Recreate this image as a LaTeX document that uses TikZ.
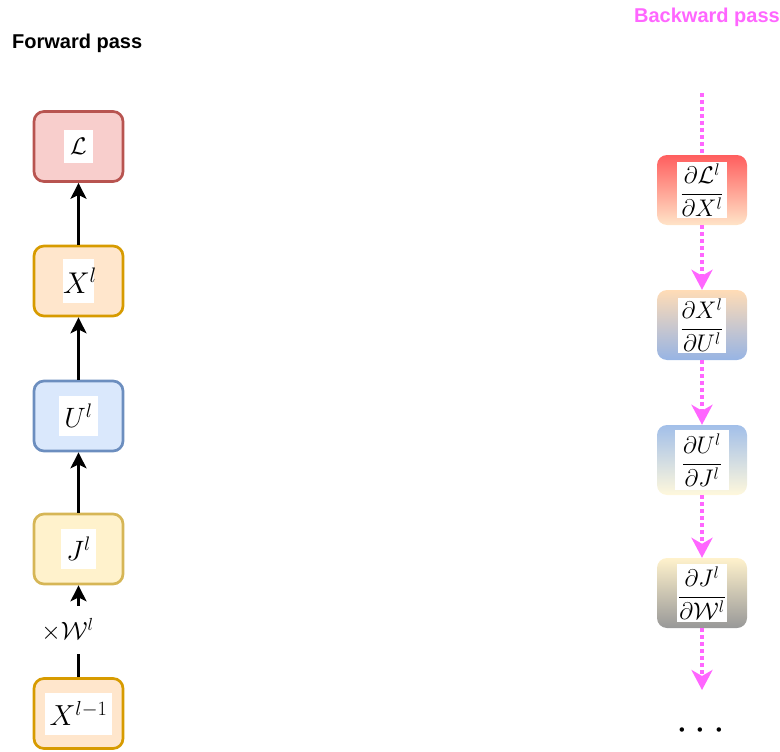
\RequirePackage{fix-cm}
\documentclass[tikz,border=0pt]{standalone}
\usepackage{amsmath}
\usepackage{fontspec}
\newfontfamily\labelfont{Liberation Sans}
\usetikzlibrary{arrows.meta}
\definecolor{lRed}{HTML}{F8CECC}
\definecolor{dRed}{HTML}{B85450}
\definecolor{lOrange}{HTML}{FFE6CC}
\definecolor{dOrange}{HTML}{D79B00}
\definecolor{lBlue}{HTML}{DAE8FC}
\definecolor{dBlue}{HTML}{6C8EBF}
\definecolor{lYellow}{HTML}{FFF2CC}
\definecolor{dYellow}{HTML}{D6B656}
\definecolor{bwd}{HTML}{FF66FF}
\definecolor{gRedT}{HTML}{FF5E5E}
\definecolor{gRedB}{HTML}{FFE4C8}
\definecolor{gPeach}{HTML}{FFDCB6}
\definecolor{gBlue}{HTML}{97B4E4}
\definecolor{gBlueT}{HTML}{A2BFE9}
\definecolor{gCream}{HTML}{FFF8DC}
\definecolor{gYelT}{HTML}{FFF2CC}
\definecolor{gGray}{HTML}{989898}
\tikzset{
  fbox/.style={draw, line width=2.7pt, rounded corners=10pt, minimum width=89pt, minimum height=70pt, inner sep=0pt},
  bbox/.style={rounded corners=10pt, minimum width=90pt, minimum height=70pt, inner sep=0pt, shading=axis, shading angle=0},
  fwd/.style={line width=2.5pt, -{Stealth[length=16pt,width=16pt,inset=4pt]}},
  bwdline/.style={bwd, line width=4pt, dash pattern=on 4pt off 3pt},
  bwdarrow/.style={bwdline, -{Stealth[length=20pt,width=21pt,inset=6pt,sep=0pt]}},
  title/.style={font=\labelfont\bfseries\fontsize{20}{22}\selectfont, inner sep=0pt},
}
% size, box width, box height, math
\newcommand{\wlab}[4]{{\fontsize{#1}{#1}\selectfont\setlength{\fboxsep}{0pt}\colorbox{white}{\parbox[c][#3][c]{#2}{\centering$#4$}}}}
\begin{document}
\begin{tikzpicture}[x=1pt,y=-1pt]
\useasboundingbox (0,0) rectangle (780,752);
% titles
\node[title, anchor=west] (ftitle) at (12,43) {Forward pass};
\node[title, anchor=east, text=bwd] (btitle) at (780,17) {Backward pass};
% forward boxes
\node[fbox, fill=lRed, draw=dRed] (L) at (78.5,146.5) {\wlab{24}{29pt}{34pt}{\mathcal{L}}};
\node[fbox, fill=lOrange, draw=dOrange] (Xl) at (78.5,281) {\wlab{30}{31pt}{44pt}{X^l}};
\node[fbox, fill=lBlue, draw=dBlue] (Ul) at (78.5,416) {\wlab{28}{39pt}{40pt}{U^l}};
\node[fbox, fill=lYellow, draw=dYellow] (Jl) at (78.5,549) {\wlab{28}{35pt}{40pt}{J^l}};
\node[fbox, fill=lOrange, draw=dOrange] (Xlm) at (78.5,713.5) {\wlab{29}{67pt}{42pt}{X^{l-1}}};
% forward edges
\draw[fwd] (Xl) -- (L);
\draw[fwd] (Ul) -- (Xl);
\draw[fwd] (Jl) -- (Ul);
\draw[fwd] (Xlm) -- node[fill=white, inner sep=0pt, minimum height=48pt, xshift=-11pt, yshift=1pt, font=\fontsize{25}{25}\selectfont] (wlabel) {$\times\mathcal{W}^l$} (Jl);
% backward boxes
\node[bbox, top color=gRedT, bottom color=gRedB] (dL) at (702,190) {\wlab{24}{50pt}{56pt}{\dfrac{\partial\mathcal{L}^l}{\partial X^l}}};
\node[bbox, top color=gPeach, bottom color=gBlue] (dXU) at (702,325) {\wlab{24}{48pt}{55pt}{\dfrac{\partial X^l}{\partial U^l}}};
\node[bbox, top color=gBlueT, bottom color=gCream] (dUJ) at (702,460) {\wlab{24}{54pt}{60pt}{\dfrac{\partial U^l}{\partial J^l}}};
\node[bbox, top color=gYelT, bottom color=gGray] (dJW) at (702,593) {\wlab{24}{50pt}{58pt}{\dfrac{\partial J^l}{\partial \mathcal{W}^l}}};
\coordinate (btop) at (702,93);
\coordinate (bend) at (702,690);
\node[font=\fontsize{42}{42}\selectfont, inner sep=0pt] (dots) at (704,731) {$\cdots$};
% backward edges
\draw[bwdline] (btop) -- (dL.north);
\draw[bwdarrow] (dL) -- (dXU);
\draw[bwdarrow] (dXU) -- (dUJ);
\draw[bwdarrow] (dUJ) -- (dJW);
\draw[bwdarrow] (dJW) -- (bend);
\end{tikzpicture}
\end{document}
